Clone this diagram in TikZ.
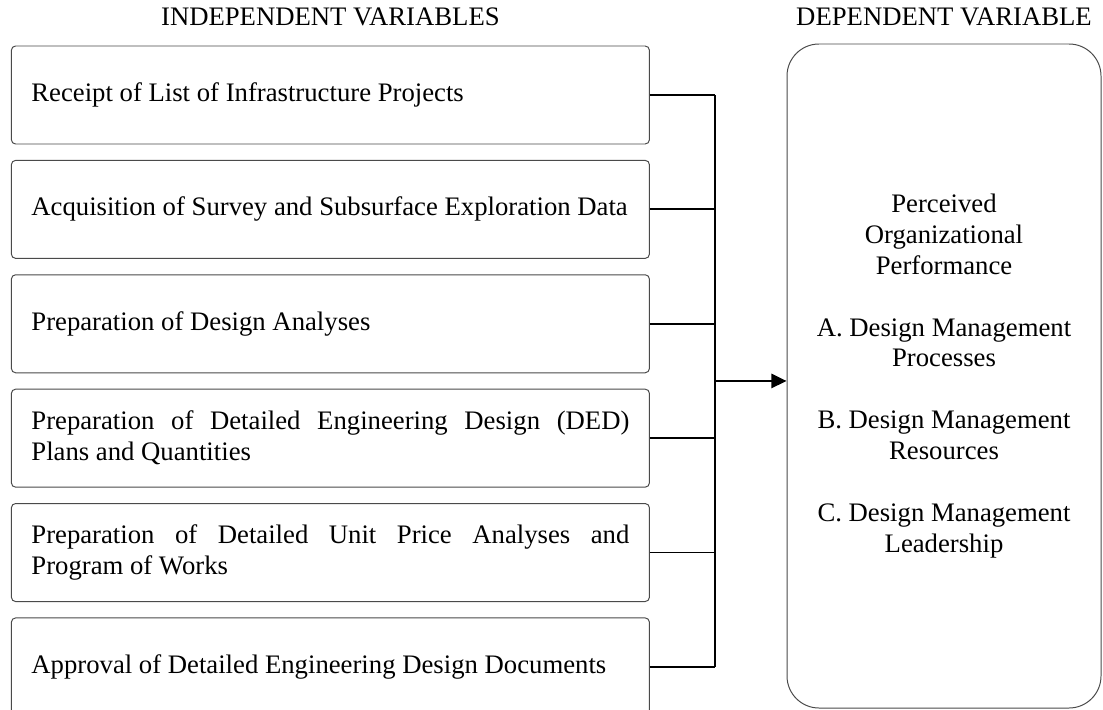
\documentclass[tikz,border=0pt]{standalone}
\usepackage{fontspec}
\setmainfont{Liberation Serif}
\usepackage{tikz}
\usetikzlibrary{arrows.meta,positioning,calc}
\definecolor{ink}{HTML}{000000}
\definecolor{edge}{HTML}{4A4A4A}
\hyphenpenalty=10000
\exhyphenpenalty=10000
\tolerance=9999
\newcommand{\bodyfont}{\fontsize{19}{22}\selectfont}
\tikzset{
  varbox/.style={draw=edge, line width=0.7pt, rounded corners=3pt, align=justify,
                 text width=14.95cm, inner xsep=0.5cm, minimum height=2.45cm, font=\bodyfont},
  depbox/.style={draw=edge, line width=0.7pt, rounded corners=0.8cm,
                 minimum width=7.85cm, minimum height=16.6cm},
  deptxt/.style={align=center, font=\bodyfont},
  hdr/.style={font=\bodyfont, inner sep=0pt, anchor=base},
  link/.style={line width=1.3pt, draw=ink},
  arr/.style={link, -{Triangle[length=3.8mm, width=3.6mm]}},
}

\begin{document}
\begin{tikzpicture}[node distance=0.385cm]
  \useasboundingbox (0,0) rectangle (27.575,-17.725);
  \node[varbox] (rc1) at (8.26,-2.375) {Receipt of List of Infrastructure Projects};
  \node[varbox, below=of rc1] (rc2) {Acquisition of Survey and Subsurface Exploration Data};
  \node[varbox, below=of rc2] (rc3) {Preparation of Design Analyses};
  \node[varbox, below=of rc3] (rc4) {Preparation of Detailed Engineering Design (DED)\linebreak Plans and Quantities};
  \node[varbox, below=of rc4] (rc5) {Preparation of Detailed Unit Price Analyses and\linebreak Program of Works};
  \node[varbox, below=of rc5] (rc6) {Approval of Detailed Engineering Design Documents};
  \node[depbox] (dep) at (23.6,-9.4) {};
  \node[deptxt] (perf) at (dep.center) {Perceived\\Organizational\\Performance\\[22pt]
    A. Design Management\\Processes\\[22pt]
    B. Design Management\\Resources\\[22pt]
    C. Design Management\\Leadership};
  \node[hdr] (indep) at (rc1.north |- 0,-0.65) {INDEPENDENT VARIABLES};
  \node[hdr] (dephdr) at (dep.north |- 0,-0.65) {DEPENDENT VARIABLE};
  % bus line joining the six variables
  \coordinate (bus) at (17.875,0);
  \foreach \i in {1,...,6}
    \draw[link] (rc\i.east) -- (rc\i.east -| bus);
  \draw[link] (rc1.east -| bus) -- (rc6.east -| bus);
  \coordinate (mid) at ($(rc3.south)!0.5!(rc4.north)$);
  \draw[arr] (mid -| bus) -- (mid -| dep.west);
\end{tikzpicture}
\end{document}
